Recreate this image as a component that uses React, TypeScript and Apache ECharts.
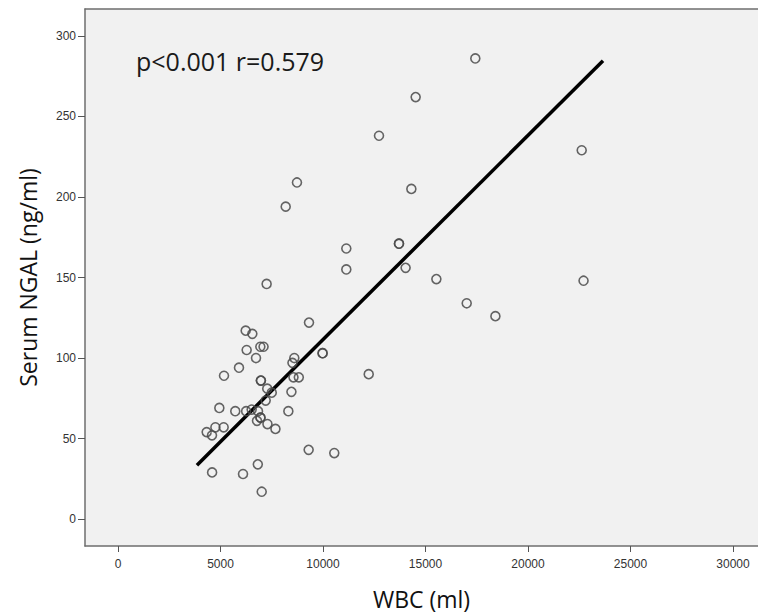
import React, { useEffect, useRef } from "react";
import * as echarts from "echarts";

// WBC (per ml) for each patient
const wbcValues = [
  4325, 4585, 4750, 5154, 4943, 5171, 5902, 5720, 4590, 6098,
  6820, 7010, 6228, 6553, 6276, 6732, 6943, 7100, 6970, 6970,
  7280, 7500, 7204, 6250, 6520, 6830, 6950, 6950, 6780, 7290,
  7680, 8310, 8460, 8560, 8820, 8600, 8510, 9317, 9980, 9980,
  9300, 10550, 12230, 7250, 8180, 8730, 11137, 11137, 12732, 13707,
  13707, 14030, 14310, 14520, 15530, 17430, 17010, 18410, 22620, 22710,
];
// Serum NGAL (ng/ml) for each patient
const ngalValues = [
  54, 52, 57, 57, 69, 89, 94, 67, 29, 28,
  34, 17, 117, 115, 105, 100, 107, 107, 86, 86,
  81, 78.5, 73.6, 67, 68, 67, 63, 63, 61, 59,
  56, 67, 79, 88, 88, 100, 97, 122, 103, 103,
  43, 41, 90, 146, 194, 209, 168, 155, 238, 171,
  171, 156, 205, 262, 149, 286, 134, 126, 229, 148,
];
// fitted regression line end points
const fitX = [3850, 23660];
const fitY = [33.5, 284.6];

const xTicks = [0, 5000, 10000, 15000, 20000, 25000, 30000];
const yTicks = [0, 50, 100, 150, 200, 250, 300];

const annotation = "p<0.001 r=0.579";
const xTitle = "WBC (ml)";
const yTitle = "Serum NGAL (ng/ml)";

export default function App() {
  const ref = useRef<HTMLDivElement>(null);
  useEffect(() => {
    document.body.style.margin = "0";
    const chart = echarts.init(ref.current!, null, { renderer: "svg" });
    const points = wbcValues.map((x, i) => [x, ngalValues[i]]);
    const fit = fitX.map((x, i) => [x, fitY[i]]);
    const frame = { show: true, onZero: false, lineStyle: { color: "#6e6e6e", width: 1.5 } };
    chart.setOption({
      animation: false,
      backgroundColor: "#ffffff",
      grid: {
        left: 85,
        top: 9,
        bottom: 68,
        right: 0,
        show: true,
        backgroundColor: "#f1f1f1",
        borderWidth: 0,
      },
      xAxis: [
        {
          type: "value",
          min: -1610,
          max: 31220,
          name: xTitle,
          nameLocation: "middle",
          nameGap: 41,
          nameTextStyle: { fontFamily: "Open Sans", fontSize: 23, color: "#111" },
          axisLine: frame,
          axisTick: {
            show: true,
            customValues: xTicks,
            length: 6,
            lineStyle: { color: "#555" },
          },
          axisLabel: {
            customValues: xTicks,
            formatter: (v: number) => String(v),
            fontFamily: "Liberation Sans",
            fontSize: 12,
            color: "#333",
            margin: 12,
          },
          splitLine: { show: false },
        },
        {
          type: "value",
          position: "top",
          min: -1610,
          max: 31220,
          axisLine: frame,
          axisTick: { show: false },
          axisLabel: { show: false },
          splitLine: { show: false },
        },
      ],
      yAxis: {
        type: "value",
        min: -16.7,
        max: 316.7,
        name: yTitle,
        nameLocation: "middle",
        nameGap: 46,
        nameTextStyle: { fontFamily: "Open Sans", fontSize: 23, color: "#111" },
        axisLine: frame,
        axisTick: {
          show: true,
          customValues: yTicks,
          length: 7,
          lineStyle: { color: "#555" },
        },
        axisLabel: {
          customValues: yTicks,
          formatter: (v: number) => String(v),
          fontFamily: "Liberation Sans",
          fontSize: 12,
          color: "#333",
          margin: 9,
        },
        splitLine: { show: false },
      },
      graphic: [
        {
          type: "text",
          x: 136,
          y: 61,
          style: {
            text: annotation,
            fontFamily: "Open Sans",
            fontSize: 25,
            fill: "#1a1a1a",
            verticalAlign: "middle",
          },
        },
      ],
      series: [
        {
          type: "scatter",
          data: points,
          symbol: "circle",
          symbolSize: 9,
          itemStyle: {
            color: "rgba(0,0,0,0)",
            borderColor: "#4a4a4a",
            borderWidth: 1.6,
            opacity: 0.85,
          },
          z: 3,
        },
        {
          type: "line",
          data: fit,
          showSymbol: false,
          symbol: "none",
          lineStyle: { color: "#000", width: 3.5 },
          z: 2,
        },
      ],
    });
    return () => chart.dispose();
  }, []);
  return <div ref={ref} style={{ width: 758, height: 615 }} />;
}
